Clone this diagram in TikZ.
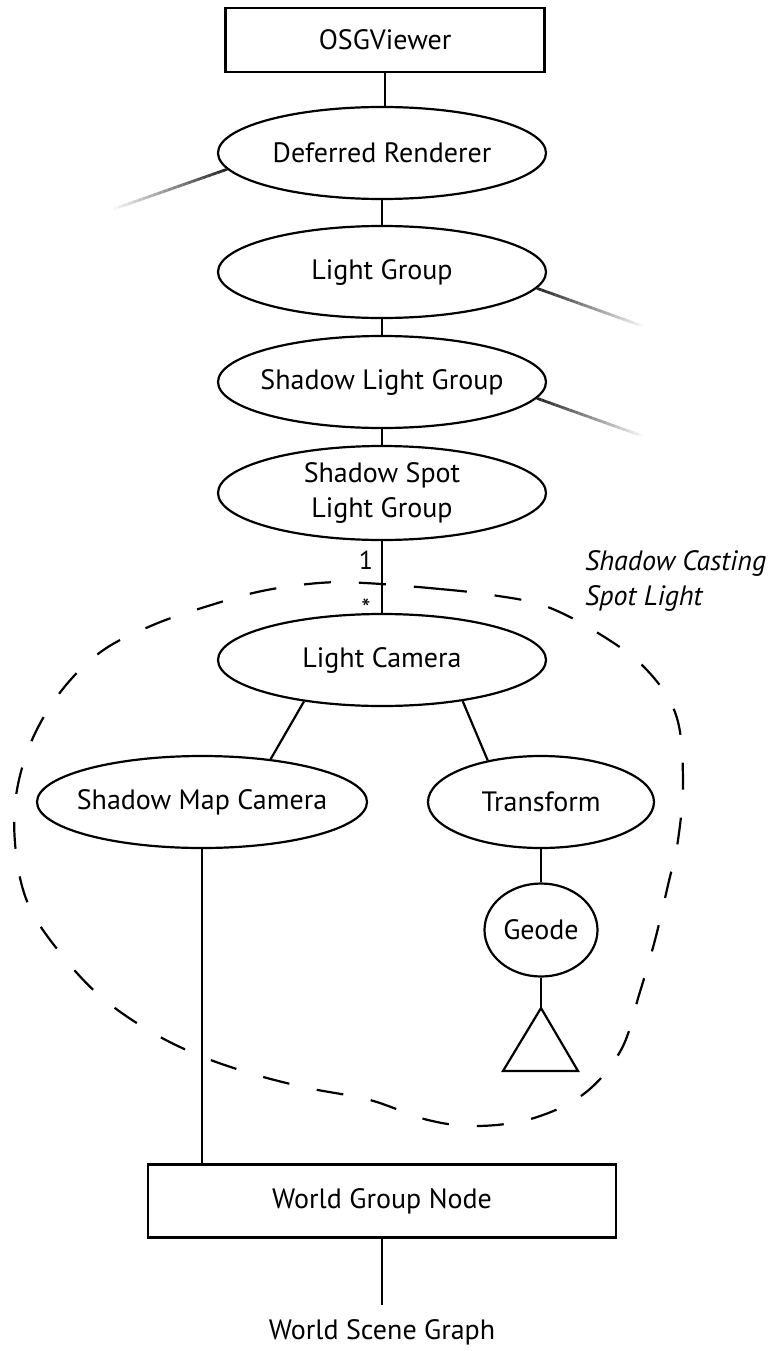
\documentclass[tikz,border=0pt]{standalone}
\usepackage{fontspec}
\setmainfont{PT Sans}
\usetikzlibrary{shapes.geometric,calc}
\begin{document}
\begin{tikzpicture}[x=1pt,y=-1pt,
  every node/.style={font=\fontsize{28}{35}\selectfont},
  oval/.style={draw, ellipse, line width=2.2pt, inner xsep=-40pt, inner ysep=0pt,
    minimum width=328pt, minimum height=92pt, align=center},
  box/.style={draw, rectangle, line width=2.2pt, inner sep=0pt},
  link/.style={line width=2.2pt},
  boundary/.style={line width=2.2pt, dash pattern=on 27pt off 28pt},
  plain/.style={inner sep=0pt}]
\useasboundingbox (0,0) rectangle (774,1351);

% scene graph nodes
\node[box, minimum width=319pt, minimum height=64pt] (viewer) at (385,40) {OSGViewer};
\node[oval] (dr)   at (382,153) {Deferred Renderer};
\node[oval] (lg)   at (382,272) {Light Group};
\node[oval] (slg)  at (382,382) {Shadow Light Group};
\node[oval, minimum height=94pt] (sslg) at (382,493) {Shadow Spot\\Light Group};
\node[oval] (lc)   at (382,660) {Light Camera};
\node[oval, minimum width=330pt] (smc) at (202,802) {Shadow Map Camera};
\node[oval, minimum width=226pt] (tf) at (541,802) {Transform};
\node[oval, inner xsep=0pt, minimum width=113pt, minimum height=93pt] (geode) at (541,930) {Geode};
\node[box, minimum width=468pt, minimum height=73pt] (world) at (382,1201) {World Group Node};
\node[plain] (wsg) at (382,1332) {World Scene Graph};

% multiplicity labels
\node[plain, font=\fontsize{26}{30}\selectfont] (one) at (366,560) {1};
\node[plain, font=\fontsize{26}{30}\selectfont] (many) at (366,608) {*};

% group caption
\node[plain, anchor=west, align=left, font=\fontsize{28}{35}\itshape] (cap) at (585,581)
  {Shadow Casting\\Spot Light};

% geometry leaf
\coordinate (apex) at (541,1008);
\coordinate (bl) at (503,1071);
\coordinate (br) at (578,1071);
\draw[link, line join=miter] (apex) -- (bl) -- (br) -- cycle;

% connectors
\draw[link] (viewer.south) -- (viewer.south |- dr.north);
\draw[link] (dr) -- (lg);
\draw[link] (lg) -- (slg);
\draw[link] (slg) -- (sslg);
\draw[link] (sslg.south) -- (sslg.south |- lc.north);
\draw[link] (lc.208.6) -- (smc.32.7);
\draw[link] (lc.333) -- (tf.142.5);
\draw[link] (tf) -- (geode);
\draw[link] (geode.south) -- (apex);
\draw[link] (smc.south) -- (smc.south |- world.north);
\coordinate (wsgtop) at (382,1305);
\draw[link] (world.south) -- (wsgtop);

% fading links to siblings that are not shown
\coordinate (fadeA) at (108,211);
\coordinate (fadeB) at (648,328);
\coordinate (fadeC) at (648,438);
\foreach \s/\e in {dr.186/fadeA, lg.354/fadeB, slg.354/fadeC} {
  \foreach \i in {0,...,23} {
    \pgfmathsetmacro\a{\i/24}
    \pgfmathsetmacro\b{(\i+1)/24}
    \pgfmathsetmacro\c{85*(1-\i/23)}
    \draw[line width=2.8pt, black!\c] ($(\s)!\a!(\e)$) -- ($(\s)!\b!(\e)$);
  }
}

% boundary of the shadow casting spot light
\draw[boundary] plot[smooth cycle, tension=0.6] coordinates {
  (365,583) (440,589) (492,595) (545,606) (598,633) (645,668) (676,715)
  (683,780) (678,840) (668,885) (655,940) (639,995) (621,1050) (585,1093)
  (534,1118) (478,1126) (428,1120) (370,1100) (308,1088) (253,1074)
  (198,1055) (148,1030) (100,996) (61,954) (29,906) (16,853) (16,796)
  (32,740) (62,690) (102,651) (153,625) (208,606) (262,591) (319,583)};
\end{tikzpicture}
\end{document}
